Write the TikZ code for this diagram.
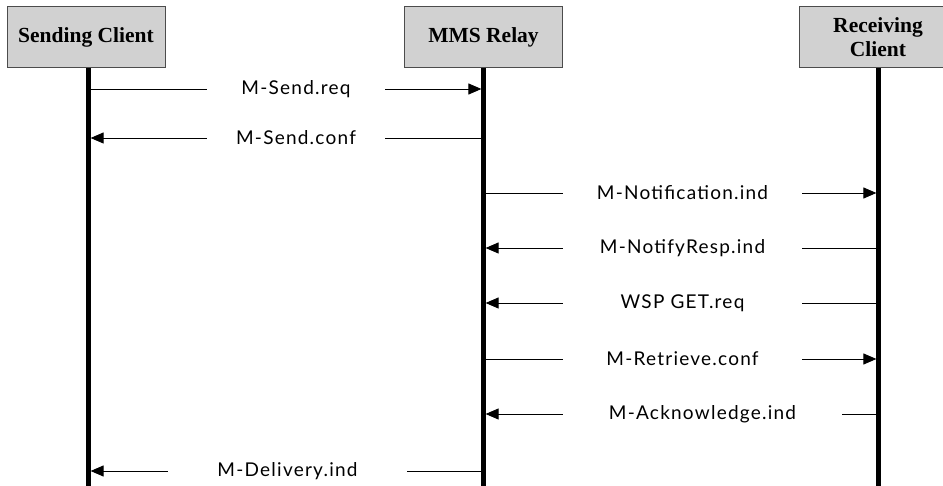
\documentclass[tikz,border=0pt]{standalone}
\usepackage{fontspec}
\setmainfont{Liberation Serif}
\newfontfamily\labelfont[LetterSpace=6.5]{Lato}
\usetikzlibrary{arrows.meta,positioning}

\tikzset{
  entity/.style={draw=black!70, line width=1pt, fill=black!18, minimum width=158pt,
    minimum height=61pt, inner sep=0pt, align=center,
    font=\fontsize{21.5}{24}\selectfont\bfseries},
  lifeline/.style={line width=4.2pt},
  msg/.style={inner sep=0pt, minimum height=18pt, font=\labelfont\fontsize{19}{21}\selectfont},
  msgline/.style={line width=0.9pt},
  tip/.style={-{Triangle[length=13pt,width=11pt]}, shorten >=2.1pt},
  notip/.style={-, shorten >=2.1pt}
}

\begin{document}
\begin{tikzpicture}[x=1pt, y=-1pt]
	\clip (0,0) rectangle (943,486);
	% entities
	\node[entity] (sender) 	at (86,37) 	{Sending Client};
	\node[entity] (relay) 	at (483.5,37) 	{MMS Relay};
	\node[entity] (receiver) 	at (878,37) 	{Receiving\\Client};
	% lifelines
	\coordinate (sendtop) at (88.5,68);	\coordinate (sendbot) at (88.5,486);
	\coordinate (relaytop) at (relay.south);	\coordinate (relaybot) at (483.5,486);
	\coordinate (recvtop) at (878.5,68);	\coordinate (recvbot) at (878.5,486);
	\draw[lifeline] (sendtop) -- (sendbot);
	\draw[lifeline] (relaytop) -- (relaybot);
	\draw[lifeline] (recvtop) -- (recvbot);
	% messages: number / y / left line / right line / gap start / gap end / left tip / right tip / text
	\foreach \i/\y/\ll/\rl/\gl/\gr/\tl/\tr/\txt in {
		1/89/sendtop/relaytop/207/385/notip/tip/M-Send.req,
		2/138/sendtop/relaytop/207/385/tip/notip/M-Send.conf,
		3/193/relaytop/recvtop/563/802/notip/tip/M-Notification.ind,
		4/248/relaytop/recvtop/563/802/tip/notip/M-NotifyResp.ind,
		5/303/relaytop/recvtop/563/802/tip/notip/WSP GET.req,
		6/359/relaytop/recvtop/563/802/notip/tip/M-Retrieve.conf,
		7/414/relaytop/recvtop/563/842/tip/notip/M-Acknowledge.ind,
		8/471/sendtop/relaytop/168/407/tip/notip/M-Delivery.ind}
	{
		\node[msg, minimum width=\gr pt-\gl pt] (m\i) at ({(\gl+\gr)/2},\y) {\txt};
		\draw[msgline,\tl] (m\i.west) -- (\ll |- m\i.west);
		\draw[msgline,\tr] (m\i.east) -- (\rl |- m\i.east);
	}
\end{tikzpicture}
\end{document}
